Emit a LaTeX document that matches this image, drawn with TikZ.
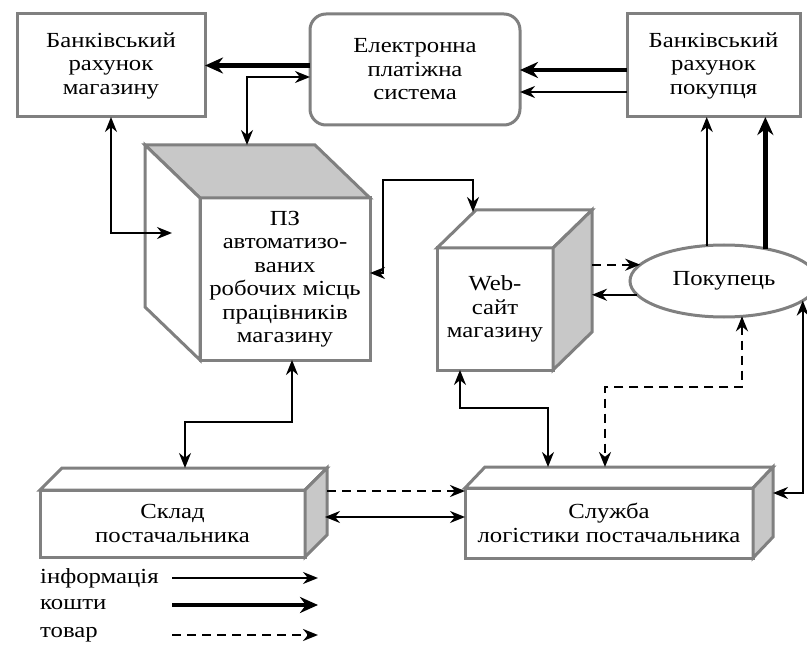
\documentclass[tikz,border=0pt]{standalone}
\usepackage{fontspec}
\setmainfont{Liberation Serif}[FakeStretch=1.15]
\usetikzlibrary{
  shapes.geometric,
  arrows.meta,
  positioning
}
\definecolor{edgegray}{RGB}{128,128,128}
\definecolor{facegray}{RGB}{200,200,200}

\begin{document}
\begin{tikzpicture}[
  x=1pt, y=-1pt,
  >={Stealth[length=15pt, width=12pt]},
  every node/.style={font=\fontsize{21.5}{23.5}\selectfont},
  box/.style={rectangle, draw=edgegray, line width=3pt, fill=white,
    align=center, outer sep=0pt, inner sep=2pt},
  paybox/.style={box, rounded corners=16pt},
  back/.style={rectangle, outer sep=0pt, inner sep=0pt},
  face/.style={draw=edgegray, line width=3pt},
  client/.style={ellipse, draw=edgegray, line width=3pt, fill=white,
    outer sep=0pt, minimum width=188pt, minimum height=72pt},
  info/.style={draw=black, line width=2pt},
  money/.style={draw=black, line width=4.5pt, >={Stealth[length=18pt, width=16pt]}},
  goods/.style={draw=black, line width=2.4pt, dash pattern=on 9pt off 6pt},
  legtext/.style={anchor=west, inner sep=0pt}
]
  \clip (0,0) rectangle (807,650);

  % accounts and payment system
  \node[box, minimum width=188pt, minimum height=103pt] (shopbank) at (111,65.5)
    {Банківський\\рахунок\\магазину};
  \node[paybox, minimum width=210pt, minimum height=111pt] (payment) at (415,69.5)
    {Електронна\\платіжна\\система};
  \node[box, minimum width=173pt, minimum height=103pt] (buybank) at (713.5,65.5)
    {Банківський\\рахунок\\покупця};

  % cubes: front face + hidden back face
  \node[box, minimum width=170pt, minimum height=162pt] (pz) at (285,279)
    {ПЗ\\автоматизо-\\ваних\\робочих місць\\працівників\\магазину};
  \node[back, minimum width=170pt, minimum height=162pt, xshift=-55pt, yshift=53pt] (pzback) at (pz) {};
  \node[box, minimum width=116pt, minimum height=122pt] (web) at (495,309)
    {Web-\\сайт\\магазину};
  \node[back, minimum width=116pt, minimum height=122pt, xshift=39pt, yshift=38pt] (webback) at (web) {};
  \node[box, minimum width=265pt, minimum height=67pt] (store) at (172.5,523.5)
    {Склад\\постачальника};
  \node[back, minimum width=265pt, minimum height=67pt, xshift=22pt, yshift=22pt] (storeback) at (store) {};
  \node[box, minimum width=288pt, minimum height=70pt] (logist) at (609,523)
    {Служба\\логістики постачальника};
  \node[back, minimum width=288pt, minimum height=70pt, xshift=20pt, yshift=21pt] (logistback) at (logist) {};

  \node[client] (buyer) at (724,281) {Покупець};

  % cube faces
  \draw[face, fill=facegray] (pz.north west) -- (pzback.north west)
    -- (pzback.north east) -- (pz.north east) -- cycle;
  \draw[face, fill=white] (pz.north west) -- (pzback.north west)
    -- (pzback.south west) -- (pz.south west) -- cycle;
  \foreach \c in {web, store, logist} {
    \draw[face, fill=white] (\c.north west) -- (\c back.north west)
      -- (\c back.north east) -- (\c.north east) -- cycle;
    \draw[face, fill=facegray] (\c.north east) -- (\c back.north east)
      -- (\c back.south east) -- (\c.south east) -- cycle;
  }

  % money and information flows at the top
  \draw[money, ->] (payment.west |- shopbank.east) -- (shopbank.east);
  \draw[info, <->] ([xshift=17pt]pzback.north) |- ([yshift=-7.5pt]payment.west);
  \draw[money, ->] ([yshift=-4.5pt]buybank.west) -- ([yshift=-0.5pt]payment.east);
  \draw[info, ->] ([yshift=-26.5pt]buybank.west) -- ([yshift=-22.5pt]payment.east);
  \draw[info, <->] (shopbank.south) |- ([xshift=27pt, yshift=-7pt]pzback.west);
  \draw[info, <->] ([yshift=6pt]pz.east) -- ++(13,0)
    |- ([xshift=-3pt, yshift=30pt]webback.north west)
    -- ([xshift=-3pt, yshift=-2pt]webback.north west);

  % buyer
  \draw[goods, ->] (buyer.169 -| webback.east) -- (buyer.169);
  \draw[info, ->] (buyer.189) -- (buyer.189 -| webback.east);
  \draw[info, ->] (buyer.116) -- (buyer.116 |- buybank.south);
  \draw[money, ->] (buyer.38) -- (buyer.38 |- buybank.south);
  \draw[info, <->] (buyer.-14) |- ([yshift=9pt]logistback.east);
  \draw[goods, <->] (buyer.-63) |- ([xshift=-24pt, yshift=80pt]logistback.north)
    -- ([xshift=-24pt]logistback.north);

  % supplier side
  \draw[info, <->] ([xshift=-35pt]web.south) |- ([xshift=-81pt, yshift=59pt]logistback.north)
    -- ([xshift=-81pt]logistback.north);
  \draw[info, <->] ([xshift=7pt]pz.south) |- ([xshift=-9.5pt, yshift=46pt]storeback.north)
    -- ([xshift=-9.5pt]storeback.north);
  \draw[goods, <-] ([yshift=32pt]logist.west) -- ++(-138,0);
  \draw[info, <->] ([yshift=6pt]logist.west) -- ++(-140,0);

  % legend
  \foreach \lab/\sty/\yy in {інформація/info/578, кошти/money/605, товар/goods/635} {
    \node[legtext] (leg\sty) at (40,\yy) {\lab};
    \draw[\sty, ->] (leg\sty.west) ++(132,0) -- ++(146,0);
  }
\end{tikzpicture}
\end{document}
